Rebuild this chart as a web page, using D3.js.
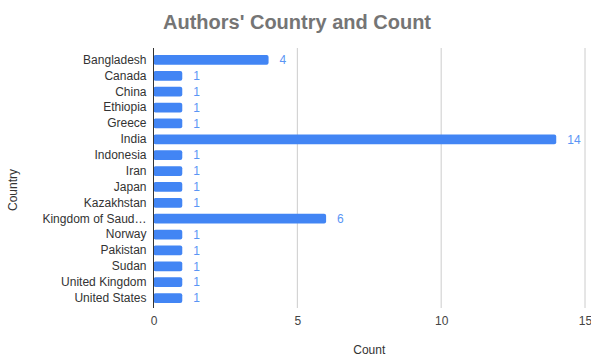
<!DOCTYPE html>
<html>
<head>
<meta charset="utf-8">
<script src="https://cdn.jsdelivr.net/npm/d3@7"></script>
<style>
  body { margin: 0; background: #fff; }
  text { font-family: Arial, "Liberation Sans", sans-serif; }
</style>
</head>
<body>
<div id="chart"></div>
<script>
// データ
const countries = ["Bangladesh", "Canada", "China", "Ethiopia", "Greece", "India", "Indonesia", "Iran",
  "Japan", "Kazakhstan", "Kingdom of Saudi Arabia", "Norway", "Pakistan", "Sudan", "United Kingdom", "United States"];
const counts = [4, 1, 1, 1, 1, 14, 1, 1, 1, 1, 6, 1, 1, 1, 1, 1];
const xTicks = [0, 5, 10, 15];

function chart() {
  const W = 591, H = 356;
  const svg = d3.select("#chart").append("svg")
    .attr("width", W).attr("height", H);

  const data = countries.map((c, i) => ({ country: c, count: counts[i] }));

  const x = d3.scaleLinear().domain([0, 15]).range([153.5, 585]);
  const y = d3.scaleBand().domain(countries).range([52, 306]).paddingInner(0.38).paddingOuter(0.19);

  // タイトル
  svg.append("text")
    .attr("x", 297).attr("y", 29)
    .attr("text-anchor", "middle")
    .style("font-size", "20px").style("font-weight", "bold")
    .style("fill", "#757575")
    .text("Authors' Country and Count");

  // グリッド線
  svg.append("g").selectAll("line")
    .data(xTicks.filter(d => d > 0))
    .join("line")
    .attr("x1", d => x(d)).attr("x2", d => x(d))
    .attr("y1", 48).attr("y2", 308)
    .attr("stroke", "#cccccc").attr("stroke-width", 1);

  // X軸ラベル
  const xAxis = svg.append("g")
    .attr("transform", "translate(0,308)")
    .call(d3.axisBottom(x).tickValues(xTicks).tickSize(0).tickPadding(8));
  xAxis.select(".domain").remove();
  xAxis.selectAll("text").style("font-size", "12px").style("fill", "#444").attr("font-family", null);

  // 棒
  svg.append("g").selectAll("rect")
    .data(data)
    .join("rect")
    .attr("x", x(0))
    .attr("y", d => y(d.country))
    .attr("width", d => x(d.count) - x(0))
    .attr("height", y.bandwidth())
    .attr("rx", 2)
    .attr("fill", "#4285f4");

  // 値ラベル
  svg.append("g").selectAll("text")
    .data(data)
    .join("text")
    .attr("x", d => x(d.count) + 11)
    .attr("y", d => y(d.country) + y.bandwidth() / 2)
    .attr("dy", "0.35em")
    .style("font-size", "12px")
    .style("fill", "#5a95f5")
    .text(d => d.count);

  // Y軸
  const yAxis = svg.append("g")
    .attr("transform", `translate(${x(0)},0)`)
    .call(d3.axisLeft(y).tickSize(0).tickPadding(7)
      .tickFormat(d => d.length > 16 ? d.slice(0, 15) + "…" : d));
  yAxis.select(".domain").remove();
  yAxis.selectAll("text").style("font-size", "12px").style("fill", "#333").attr("font-family", null);

  svg.append("line")
    .attr("x1", x(0)).attr("x2", x(0))
    .attr("y1", 48).attr("y2", 308)
    .attr("stroke", "#333").attr("stroke-width", 1);

  // 軸タイトル
  svg.append("text")
    .attr("x", (x(0) + x(15)) / 2).attr("y", 354)
    .attr("text-anchor", "middle")
    .style("font-size", "12px").style("fill", "#333")
    .text("Count");

  svg.append("text")
    .attr("transform", "translate(17,190) rotate(-90)")
    .attr("text-anchor", "middle")
    .style("font-size", "12px").style("fill", "#333")
    .text("Country");
}
chart();
</script>
</body>
</html>
